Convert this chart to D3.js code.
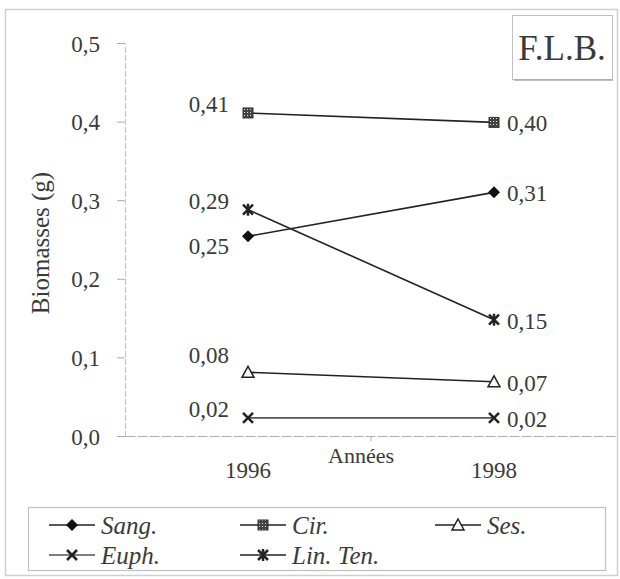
<!DOCTYPE html>
<html><head><meta charset="utf-8">
<script src="https://cdn.jsdelivr.net/npm/d3@7"></script>
<style>body{margin:0;background:#fff}svg{display:block}svg text{font-family:"Liberation Serif","Times New Roman",serif}</style>
</head><body>
<script>
const years = ["1996", "1998"];
const seriesNames = ["Sang.", "Cir.", "Ses.", "Euph.", "Lin. Ten."];
const sang = [0.254, 0.310];
const cir = [0.411, 0.399];
const ses = [0.081, 0.069];
const euph = [0.023, 0.023];
const linTen = [0.288, 0.148];
const labelsSang = ["0,25", "0,31"];
const labelsCir = ["0,41", "0,40"];
const labelsSes = ["0,08", "0,07"];
const labelsEuph = ["0,02", "0,02"];
const labelsLinTen = ["0,29", "0,15"];
const yTicks = [0, 0.1, 0.2, 0.3, 0.4, 0.5];
const yTickLabels = ["0,0", "0,1", "0,2", "0,3", "0,4", "0,5"];

const series = [
  {name: seriesNames[0], values: sang, labels: labelsSang, marker: "diamond"},
  {name: seriesNames[1], values: cir, labels: labelsCir, marker: "square"},
  {name: seriesNames[2], values: ses, labels: labelsSes, marker: "triangle"},
  {name: seriesNames[3], values: euph, labels: labelsEuph, marker: "x"},
  {name: seriesNames[4], values: linTen, labels: labelsLinTen, marker: "star"}
];
// left-label vertical offsets (layout only)
const leftDy = {"diamond": 10, "square": -9, "triangle": -17, "x": -9, "star": -9};

const W = 620, H = 579;
const FONT = "Liberation Serif";
const TXT = "#3a3a3a";
const svg = d3.select("body").append("svg").attr("width", W).attr("height", H);

// outer frame
svg.append("rect").attr("x", 5.5).attr("y", 9.5).attr("width", 612).attr("height", 566)
  .attr("fill", "none").attr("stroke", "#cfcfcf").attr("stroke-width", 1.5);

const x = d3.scaleBand().domain(years).range([125, 617]);
const y = d3.scaleLinear().domain([0, 0.5]).range([436, 43]);
const xc = d => x(d) + x.bandwidth() / 2;

// y axis
const yAxis = svg.append("g").attr("transform", "translate(125,0)")
  .call(d3.axisLeft(y).tickValues(yTicks).tickSize(8).tickFormat((d, i) => yTickLabels[i]));
yAxis.attr("font-family", null);
yAxis.select(".domain").attr("stroke", "#c4c4c4").attr("stroke-dasharray", "6,2");
yAxis.selectAll(".tick line").attr("stroke", "#aaa");
yAxis.selectAll(".tick text").attr("font-size", 23)
  .attr("fill", TXT).attr("x", -25).attr("dy", "0.35em");

// x axis
const xAxis = svg.append("g").attr("transform", "translate(0,436)")
  .call(d3.axisBottom(x).tickSize(0).tickFormat(""));
xAxis.select(".domain").attr("stroke", "#b0b0b0").attr("stroke-dasharray", "10,2");
svg.append("line").attr("x1", x("1998")).attr("x2", x("1998")).attr("y1", 436).attr("y2", 441)
  .attr("stroke", "#aaa");

// year labels
svg.selectAll(".yr").data(years).enter().append("text")
  .attr("x", d => xc(d)).attr("y", 478).attr("text-anchor", "middle")
  .attr("font-size", 23).attr("fill", TXT).text(d => d);
svg.append("text").attr("x", 361).attr("y", 463).attr("text-anchor", "middle")
  .attr("font-size", 22).attr("fill", TXT).text("Années");

// y title
svg.append("text").attr("transform", "translate(49,243) rotate(-90)")
  .attr("text-anchor", "middle").attr("font-size", 25).attr("fill", TXT).text("Biomasses (g)");

// pattern for Cir square
const defs = svg.append("defs");
const pat = defs.append("pattern").attr("id", "dots").attr("width", 3).attr("height", 3)
  .attr("patternUnits", "userSpaceOnUse");
pat.append("rect").attr("width", 3).attr("height", 3).attr("fill", "#444");
pat.append("rect").attr("x", 1).attr("y", 1).attr("width", 1).attr("height", 1).attr("fill", "#ddd");

function drawMarker(g, type, cx, cy) {
  if (type === "diamond") {
    g.append("path").attr("d", `M${cx},${cy-6}L${cx+6},${cy}L${cx},${cy+6}L${cx-6},${cy}Z`).attr("fill", "#111");
  } else if (type === "square") {
    g.append("rect").attr("x", cx-5).attr("y", cy-5).attr("width", 10).attr("height", 10)
      .attr("fill", "url(#dots)").attr("stroke", "#333").attr("stroke-width", 1);
  } else if (type === "triangle") {
    g.append("path").attr("d", `M${cx},${cy-6}L${cx+6},${cy+5}L${cx-6},${cy+5}Z`)
      .attr("fill", "#fff").attr("stroke", "#222").attr("stroke-width", 1.5);
  } else if (type === "x") {
    g.append("path").attr("d", `M${cx-5},${cy-5}L${cx+5},${cy+5}M${cx+5},${cy-5}L${cx-5},${cy+5}`)
      .attr("stroke", "#222").attr("stroke-width", 2.5);
  } else if (type === "star") {
    g.append("path").attr("d", `M${cx-5},${cy-5}L${cx+5},${cy+5}M${cx+5},${cy-5}L${cx-5},${cy+5}M${cx},${cy-6}L${cx},${cy+6}`)
      .attr("stroke", "#222").attr("stroke-width", 2.5);
  }
}

const line = d3.line().x((d, i) => xc(years[i])).y(d => y(d));
series.forEach(s => {
  const g = svg.append("g");
  g.append("path").attr("d", line(s.values)).attr("fill", "none")
    .attr("stroke", s.marker === "x" ? "#555" : "#222").attr("stroke-width", 1.6);
  s.values.forEach((v, i) => drawMarker(g, s.marker, xc(years[i]), y(v)));
  g.append("text").attr("x", xc(years[0]) - 19).attr("y", y(s.values[0]) + leftDy[s.marker])
    .attr("dy", "0.35em").attr("text-anchor", "end").attr("font-size", 23).attr("fill", TXT)
    .text(s.labels[0]);
  g.append("text").attr("x", xc(years[1]) + 13).attr("y", y(s.values[1]) + 1)
    .attr("dy", "0.35em").attr("font-size", 23).attr("fill", TXT).text(s.labels[1]);
});

// F.L.B. box
svg.append("rect").attr("x", 512.5).attr("y", 15.5).attr("width", 100).attr("height", 64)
  .attr("fill", "#fff").attr("stroke", "#c0c0c0").attr("stroke-width", 1);
svg.append("line").attr("x1", 514).attr("x2", 613).attr("y1", 80).attr("y2", 80)
  .attr("stroke", "#aaa").attr("stroke-width", 1.5);
svg.append("text").attr("x", 562).attr("y", 60).attr("text-anchor", "middle")
  .attr("font-size", 35).attr("fill", TXT).text("F.L.B.");

// legend
svg.append("rect").attr("x", 28.5).attr("y", 507.5).attr("width", 577).attr("height", 63)
  .attr("fill", "none").attr("stroke", "#c0c0c0").attr("stroke-width", 1.2);
const legPos = [[49, 525], [240, 525], [435, 525], [49, 555], [240, 555]];
series.forEach((s, i) => {
  const [lx, ly] = legPos[i];
  const g = svg.append("g");
  g.append("line").attr("x1", lx).attr("x2", lx + 46).attr("y1", ly).attr("y2", ly)
    .attr("stroke", s.marker === "x" ? "#555" : "#222").attr("stroke-width", 1.6);
  drawMarker(g, s.marker, lx + 23, ly);
  g.append("text").attr("x", lx + 52).attr("y", ly).attr("dy", "0.35em")
    .attr("font-size", 25).attr("font-style", "italic").attr("fill", TXT).text(s.name);
});

svg.selectAll("text").attr("font-family", FONT);
</script>
</body></html>
